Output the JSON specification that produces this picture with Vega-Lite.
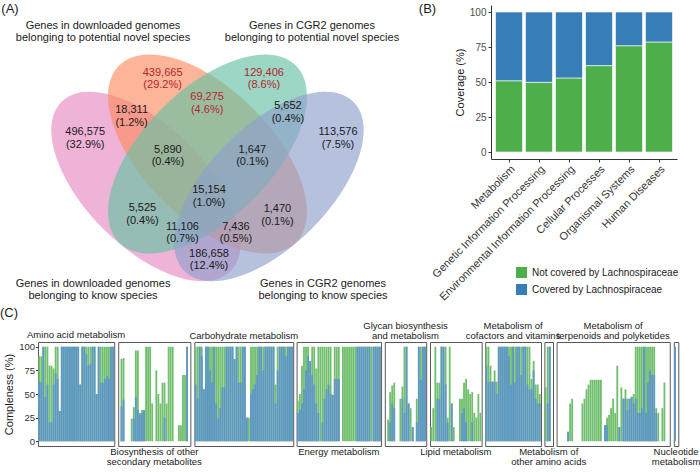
{
  "$schema": "https://vega.github.io/schema/vega-lite/v6.json",
  "padding": {"left": 0, "top": 2, "right": 0, "bottom": 0},
  "spacing": 0,
  "config": {
    "font": "Liberation Sans",
    "view": {"stroke": null},
    "axis": {"grid": false, "labelFont": "Liberation Sans", "titleFont": "Liberation Sans", "titleFontWeight": "normal", "titleColor": "#1A1A1A"},
    "legend": {"labelFont": "Liberation Sans"},
    "title": {"font": "Liberation Sans", "fontWeight": "normal", "color": "#1A1A1A"},
    "text": {"font": "Liberation Sans"}
  },
  "datasets": {
    "tags": [
      {"tag": "(A)", "x": -0.0281, "y": 0.9452},
      {"tag": "(B)", "x": 1.0882, "y": 0.9452}
    ],
    "venn_sets": [
      {"id": "S1", "cx": 0.3356, "cy": 0.4706, "lx": 0.1939, "ly": 0.2112, "label": "Genes in downloaded genomes\nbelonging to know species"},
      {"id": "S2", "cx": 0.5, "cy": 0.5575, "lx": 0.2206, "ly": 0.8984, "label": "Genes in downloaded genomes\nbelonging to potential novel species"},
      {"id": "S3", "cx": 0.5, "cy": 0.5575, "lx": 0.7794, "ly": 0.8984, "label": "Genes in CGR2 genomes\nbelonging to potential novel species"},
      {"id": "S4", "cx": 0.6644, "cy": 0.4706, "lx": 0.8088, "ly": 0.2112, "label": "Genes in CGR2 genomes\nbelonging to know species"}
    ],
    "venn_regions": [
      {"label": "439,665\n(29.2%)", "x": 0.380, "y": 0.7754, "group": "novel"},
      {"label": "129,406\n(8.6%)", "x": 0.651, "y": 0.7754, "group": "novel"},
      {"label": "69,275\n(4.6%)", "x": 0.499, "y": 0.7086, "group": "novel"},
      {"label": "18,311\n(1.2%)", "x": 0.297, "y": 0.6738, "group": "other"},
      {"label": "5,652\n(0.4%)", "x": 0.715, "y": 0.6845, "group": "other"},
      {"label": "496,575\n(32.9%)", "x": 0.173, "y": 0.6150, "group": "other"},
      {"label": "113,576\n(7.5%)", "x": 0.849, "y": 0.6150, "group": "other"},
      {"label": "5,890\n(0.4%)", "x": 0.394, "y": 0.5695, "group": "other"},
      {"label": "1,647\n(0.1%)", "x": 0.620, "y": 0.5695, "group": "other"},
      {"label": "15,154\n(1.0%)", "x": 0.504, "y": 0.4599, "group": "other"},
      {"label": "5,525\n(0.4%)", "x": 0.326, "y": 0.4118, "group": "other"},
      {"label": "1,470\n(0.1%)", "x": 0.687, "y": 0.4091, "group": "other"},
      {"label": "11,106\n(0.7%)", "x": 0.433, "y": 0.3636, "group": "other"},
      {"label": "7,436\n(0.5%)", "x": 0.576, "y": 0.3636, "group": "other"},
      {"label": "186,658\n(12.4%)", "x": 0.504, "y": 0.2914, "group": "other"}
    ],
    "coverage": [
      {"category": "Metabolism", "group": "Not covered by Lachnospiraceae", "value": 50.9},
      {"category": "Metabolism", "group": "Covered by Lachnospiraceae", "value": 49.1},
      {"category": "Genetic Information Processing", "group": "Not covered by Lachnospiraceae", "value": 49.8},
      {"category": "Genetic Information Processing", "group": "Covered by Lachnospiraceae", "value": 50.2},
      {"category": "Environmental Information Processing", "group": "Not covered by Lachnospiraceae", "value": 52.9},
      {"category": "Environmental Information Processing", "group": "Covered by Lachnospiraceae", "value": 47.1},
      {"category": "Cellular Processes", "group": "Not covered by Lachnospiraceae", "value": 61.7},
      {"category": "Cellular Processes", "group": "Covered by Lachnospiraceae", "value": 38.3},
      {"category": "Organismal Systems", "group": "Not covered by Lachnospiraceae", "value": 75.9},
      {"category": "Organismal Systems", "group": "Covered by Lachnospiraceae", "value": 24.1},
      {"category": "Human Diseases", "group": "Not covered by Lachnospiraceae", "value": 78.6},
      {"category": "Human Diseases", "group": "Covered by Lachnospiraceae", "value": 21.4}
    ],
    "completeness": [
      {"p": "Amino acid metabolism", "bar": 1, "total": 90, "lachno": 63},
      {"p": "Amino acid metabolism", "bar": 2, "total": 90, "lachno": 63},
      {"p": "Amino acid metabolism", "bar": 3, "total": 100, "lachno": 100},
      {"p": "Amino acid metabolism", "bar": 4, "total": 100, "lachno": 47},
      {"p": "Amino acid metabolism", "bar": 5, "total": 100, "lachno": 60},
      {"p": "Amino acid metabolism", "bar": 6, "total": 80, "lachno": 20},
      {"p": "Amino acid metabolism", "bar": 7, "total": 80, "lachno": 20},
      {"p": "Amino acid metabolism", "bar": 8, "total": 77, "lachno": 60},
      {"p": "Amino acid metabolism", "bar": 9, "total": 100, "lachno": 72},
      {"p": "Amino acid metabolism", "bar": 10, "total": 100, "lachno": 66},
      {"p": "Amino acid metabolism", "bar": 11, "total": 32, "lachno": 32},
      {"p": "Amino acid metabolism", "bar": 12, "total": 100, "lachno": 100},
      {"p": "Amino acid metabolism", "bar": 13, "total": 100, "lachno": 100},
      {"p": "Amino acid metabolism", "bar": 14, "total": 100, "lachno": 100},
      {"p": "Amino acid metabolism", "bar": 15, "total": 100, "lachno": 100},
      {"p": "Amino acid metabolism", "bar": 16, "total": 100, "lachno": 100},
      {"p": "Amino acid metabolism", "bar": 17, "total": 100, "lachno": 100},
      {"p": "Amino acid metabolism", "bar": 18, "total": 100, "lachno": 100},
      {"p": "Amino acid metabolism", "bar": 19, "total": 100, "lachno": 100},
      {"p": "Amino acid metabolism", "bar": 20, "total": 100, "lachno": 100},
      {"p": "Amino acid metabolism", "bar": 21, "total": 60, "lachno": 60},
      {"p": "Amino acid metabolism", "bar": 22, "total": 100, "lachno": 100},
      {"p": "Amino acid metabolism", "bar": 23, "total": 100, "lachno": 100},
      {"p": "Amino acid metabolism", "bar": 24, "total": 100, "lachno": 92},
      {"p": "Amino acid metabolism", "bar": 25, "total": 100, "lachno": 80},
      {"p": "Amino acid metabolism", "bar": 26, "total": 100, "lachno": 82},
      {"p": "Amino acid metabolism", "bar": 27, "total": 100, "lachno": 100},
      {"p": "Amino acid metabolism", "bar": 28, "total": 100, "lachno": 100},
      {"p": "Amino acid metabolism", "bar": 29, "total": 50, "lachno": 50},
      {"p": "Amino acid metabolism", "bar": 30, "total": 100, "lachno": 100},
      {"p": "Amino acid metabolism", "bar": 31, "total": 100, "lachno": 62},
      {"p": "Amino acid metabolism", "bar": 32, "total": 100, "lachno": 62},
      {"p": "Amino acid metabolism", "bar": 33, "total": 100, "lachno": 66},
      {"p": "Amino acid metabolism", "bar": 34, "total": 100, "lachno": 69},
      {"p": "Amino acid metabolism", "bar": 35, "total": 100, "lachno": 66},
      {"p": "Amino acid metabolism", "bar": 36, "total": 100, "lachno": 100},
      {"p": "Amino acid metabolism", "bar": 37, "total": 100, "lachno": 100},
      {"p": "Biosynthesis of other secondary metabolites", "bar": 1, "total": 0, "lachno": 0},
      {"p": "Biosynthesis of other secondary metabolites", "bar": 2, "total": 87, "lachno": 37},
      {"p": "Biosynthesis of other secondary metabolites", "bar": 3, "total": 88, "lachno": 44},
      {"p": "Biosynthesis of other secondary metabolites", "bar": 4, "total": 0, "lachno": 0},
      {"p": "Biosynthesis of other secondary metabolites", "bar": 5, "total": 0, "lachno": 0},
      {"p": "Biosynthesis of other secondary metabolites", "bar": 6, "total": 0, "lachno": 0},
      {"p": "Biosynthesis of other secondary metabolites", "bar": 7, "total": 24, "lachno": 0},
      {"p": "Biosynthesis of other secondary metabolites", "bar": 8, "total": 36, "lachno": 24},
      {"p": "Biosynthesis of other secondary metabolites", "bar": 9, "total": 96, "lachno": 47},
      {"p": "Biosynthesis of other secondary metabolites", "bar": 10, "total": 96, "lachno": 33},
      {"p": "Biosynthesis of other secondary metabolites", "bar": 11, "total": 30, "lachno": 28},
      {"p": "Biosynthesis of other secondary metabolites", "bar": 12, "total": 33, "lachno": 30},
      {"p": "Biosynthesis of other secondary metabolites", "bar": 13, "total": 33, "lachno": 33},
      {"p": "Biosynthesis of other secondary metabolites", "bar": 14, "total": 100, "lachno": 0},
      {"p": "Biosynthesis of other secondary metabolites", "bar": 15, "total": 100, "lachno": 0},
      {"p": "Biosynthesis of other secondary metabolites", "bar": 16, "total": 100, "lachno": 0},
      {"p": "Biosynthesis of other secondary metabolites", "bar": 17, "total": 40, "lachno": 0},
      {"p": "Biosynthesis of other secondary metabolites", "bar": 18, "total": 0, "lachno": 0},
      {"p": "Biosynthesis of other secondary metabolites", "bar": 19, "total": 75, "lachno": 0},
      {"p": "Biosynthesis of other secondary metabolites", "bar": 20, "total": 50, "lachno": 0},
      {"p": "Biosynthesis of other secondary metabolites", "bar": 21, "total": 40, "lachno": 0},
      {"p": "Biosynthesis of other secondary metabolites", "bar": 22, "total": 62, "lachno": 0},
      {"p": "Biosynthesis of other secondary metabolites", "bar": 23, "total": 62, "lachno": 25},
      {"p": "Biosynthesis of other secondary metabolites", "bar": 24, "total": 40, "lachno": 0},
      {"p": "Biosynthesis of other secondary metabolites", "bar": 25, "total": 100, "lachno": 0},
      {"p": "Biosynthesis of other secondary metabolites", "bar": 26, "total": 100, "lachno": 0},
      {"p": "Biosynthesis of other secondary metabolites", "bar": 27, "total": 100, "lachno": 0},
      {"p": "Biosynthesis of other secondary metabolites", "bar": 28, "total": 0, "lachno": 0},
      {"p": "Biosynthesis of other secondary metabolites", "bar": 29, "total": 0, "lachno": 0},
      {"p": "Biosynthesis of other secondary metabolites", "bar": 30, "total": 17, "lachno": 0},
      {"p": "Biosynthesis of other secondary metabolites", "bar": 31, "total": 17, "lachno": 0},
      {"p": "Biosynthesis of other secondary metabolites", "bar": 32, "total": 70, "lachno": 0},
      {"p": "Biosynthesis of other secondary metabolites", "bar": 33, "total": 70, "lachno": 0},
      {"p": "Biosynthesis of other secondary metabolites", "bar": 34, "total": 100, "lachno": 100},
      {"p": "Biosynthesis of other secondary metabolites", "bar": 35, "total": 0, "lachno": 0},
      {"p": "Carbohydrate metabolism", "bar": 1, "total": 100, "lachno": 60},
      {"p": "Carbohydrate metabolism", "bar": 2, "total": 100, "lachno": 45},
      {"p": "Carbohydrate metabolism", "bar": 3, "total": 100, "lachno": 100},
      {"p": "Carbohydrate metabolism", "bar": 4, "total": 100, "lachno": 90},
      {"p": "Carbohydrate metabolism", "bar": 5, "total": 55, "lachno": 55},
      {"p": "Carbohydrate metabolism", "bar": 6, "total": 100, "lachno": 100},
      {"p": "Carbohydrate metabolism", "bar": 7, "total": 100, "lachno": 100},
      {"p": "Carbohydrate metabolism", "bar": 8, "total": 100, "lachno": 75},
      {"p": "Carbohydrate metabolism", "bar": 9, "total": 100, "lachno": 62},
      {"p": "Carbohydrate metabolism", "bar": 10, "total": 100, "lachno": 100},
      {"p": "Carbohydrate metabolism", "bar": 11, "total": 100, "lachno": 40},
      {"p": "Carbohydrate metabolism", "bar": 12, "total": 100, "lachno": 24},
      {"p": "Carbohydrate metabolism", "bar": 13, "total": 100, "lachno": 35},
      {"p": "Carbohydrate metabolism", "bar": 14, "total": 100, "lachno": 57},
      {"p": "Carbohydrate metabolism", "bar": 15, "total": 100, "lachno": 57},
      {"p": "Carbohydrate metabolism", "bar": 16, "total": 100, "lachno": 100},
      {"p": "Carbohydrate metabolism", "bar": 17, "total": 100, "lachno": 100},
      {"p": "Carbohydrate metabolism", "bar": 18, "total": 100, "lachno": 100},
      {"p": "Carbohydrate metabolism", "bar": 19, "total": 100, "lachno": 100},
      {"p": "Carbohydrate metabolism", "bar": 20, "total": 87, "lachno": 87},
      {"p": "Carbohydrate metabolism", "bar": 21, "total": 100, "lachno": 100},
      {"p": "Carbohydrate metabolism", "bar": 22, "total": 100, "lachno": 62},
      {"p": "Carbohydrate metabolism", "bar": 23, "total": 100, "lachno": 62},
      {"p": "Carbohydrate metabolism", "bar": 24, "total": 100, "lachno": 100},
      {"p": "Carbohydrate metabolism", "bar": 25, "total": 100, "lachno": 100},
      {"p": "Carbohydrate metabolism", "bar": 26, "total": 25, "lachno": 25},
      {"p": "Carbohydrate metabolism", "bar": 27, "total": 25, "lachno": 0},
      {"p": "Carbohydrate metabolism", "bar": 28, "total": 100, "lachno": 50},
      {"p": "Carbohydrate metabolism", "bar": 29, "total": 100, "lachno": 55},
      {"p": "Carbohydrate metabolism", "bar": 30, "total": 100, "lachno": 60},
      {"p": "Carbohydrate metabolism", "bar": 31, "total": 100, "lachno": 70},
      {"p": "Carbohydrate metabolism", "bar": 32, "total": 100, "lachno": 100},
      {"p": "Carbohydrate metabolism", "bar": 33, "total": 100, "lachno": 100},
      {"p": "Carbohydrate metabolism", "bar": 34, "total": 100, "lachno": 75},
      {"p": "Carbohydrate metabolism", "bar": 35, "total": 100, "lachno": 100},
      {"p": "Carbohydrate metabolism", "bar": 36, "total": 100, "lachno": 100},
      {"p": "Carbohydrate metabolism", "bar": 37, "total": 100, "lachno": 100},
      {"p": "Carbohydrate metabolism", "bar": 38, "total": 100, "lachno": 100},
      {"p": "Carbohydrate metabolism", "bar": 39, "total": 100, "lachno": 100},
      {"p": "Carbohydrate metabolism", "bar": 40, "total": 60, "lachno": 40},
      {"p": "Carbohydrate metabolism", "bar": 41, "total": 100, "lachno": 75},
      {"p": "Carbohydrate metabolism", "bar": 42, "total": 100, "lachno": 100},
      {"p": "Carbohydrate metabolism", "bar": 43, "total": 100, "lachno": 100},
      {"p": "Carbohydrate metabolism", "bar": 44, "total": 100, "lachno": 100},
      {"p": "Carbohydrate metabolism", "bar": 45, "total": 100, "lachno": 90},
      {"p": "Carbohydrate metabolism", "bar": 46, "total": 100, "lachno": 100},
      {"p": "Carbohydrate metabolism", "bar": 47, "total": 100, "lachno": 100},
      {"p": "Carbohydrate metabolism", "bar": 48, "total": 100, "lachno": 100},
      {"p": "Energy metabolism", "bar": 1, "total": 43, "lachno": 30},
      {"p": "Energy metabolism", "bar": 2, "total": 50, "lachno": 33},
      {"p": "Energy metabolism", "bar": 3, "total": 80, "lachno": 40},
      {"p": "Energy metabolism", "bar": 4, "total": 100, "lachno": 55},
      {"p": "Energy metabolism", "bar": 5, "total": 100, "lachno": 75},
      {"p": "Energy metabolism", "bar": 6, "total": 100, "lachno": 90},
      {"p": "Energy metabolism", "bar": 7, "total": 85, "lachno": 85},
      {"p": "Energy metabolism", "bar": 8, "total": 100, "lachno": 70},
      {"p": "Energy metabolism", "bar": 9, "total": 100, "lachno": 60},
      {"p": "Energy metabolism", "bar": 10, "total": 77, "lachno": 40},
      {"p": "Energy metabolism", "bar": 11, "total": 100, "lachno": 30},
      {"p": "Energy metabolism", "bar": 12, "total": 100, "lachno": 0},
      {"p": "Energy metabolism", "bar": 13, "total": 100, "lachno": 20},
      {"p": "Energy metabolism", "bar": 14, "total": 100, "lachno": 45},
      {"p": "Energy metabolism", "bar": 15, "total": 100, "lachno": 55},
      {"p": "Energy metabolism", "bar": 16, "total": 100, "lachno": 60},
      {"p": "Energy metabolism", "bar": 17, "total": 100, "lachno": 50},
      {"p": "Energy metabolism", "bar": 18, "total": 49, "lachno": 49},
      {"p": "Energy metabolism", "bar": 19, "total": 100, "lachno": 66},
      {"p": "Energy metabolism", "bar": 20, "total": 100, "lachno": 66},
      {"p": "Energy metabolism", "bar": 21, "total": 100, "lachno": 66},
      {"p": "Energy metabolism", "bar": 22, "total": 0, "lachno": 0},
      {"p": "Energy metabolism", "bar": 23, "total": 100, "lachno": 0},
      {"p": "Energy metabolism", "bar": 24, "total": 100, "lachno": 0},
      {"p": "Energy metabolism", "bar": 25, "total": 100, "lachno": 0},
      {"p": "Energy metabolism", "bar": 26, "total": 100, "lachno": 0},
      {"p": "Energy metabolism", "bar": 27, "total": 100, "lachno": 0},
      {"p": "Energy metabolism", "bar": 28, "total": 100, "lachno": 0},
      {"p": "Energy metabolism", "bar": 29, "total": 100, "lachno": 0},
      {"p": "Energy metabolism", "bar": 30, "total": 100, "lachno": 100},
      {"p": "Energy metabolism", "bar": 31, "total": 100, "lachno": 100},
      {"p": "Energy metabolism", "bar": 32, "total": 100, "lachno": 100},
      {"p": "Energy metabolism", "bar": 33, "total": 100, "lachno": 100},
      {"p": "Energy metabolism", "bar": 34, "total": 100, "lachno": 100},
      {"p": "Energy metabolism", "bar": 35, "total": 100, "lachno": 100},
      {"p": "Energy metabolism", "bar": 36, "total": 100, "lachno": 100},
      {"p": "Energy metabolism", "bar": 37, "total": 100, "lachno": 0},
      {"p": "Energy metabolism", "bar": 38, "total": 100, "lachno": 100},
      {"p": "Energy metabolism", "bar": 39, "total": 100, "lachno": 100},
      {"p": "Energy metabolism", "bar": 40, "total": 100, "lachno": 100},
      {"p": "Energy metabolism", "bar": 41, "total": 100, "lachno": 100},
      {"p": "Glycan biosynthesis and metabolism", "bar": 1, "total": 0, "lachno": 0},
      {"p": "Glycan biosynthesis and metabolism", "bar": 2, "total": 23, "lachno": 0},
      {"p": "Glycan biosynthesis and metabolism", "bar": 3, "total": 52, "lachno": 20},
      {"p": "Glycan biosynthesis and metabolism", "bar": 4, "total": 59, "lachno": 40},
      {"p": "Glycan biosynthesis and metabolism", "bar": 5, "total": 62, "lachno": 35},
      {"p": "Glycan biosynthesis and metabolism", "bar": 6, "total": 0, "lachno": 0},
      {"p": "Glycan biosynthesis and metabolism", "bar": 7, "total": 0, "lachno": 0},
      {"p": "Glycan biosynthesis and metabolism", "bar": 8, "total": 45, "lachno": 0},
      {"p": "Glycan biosynthesis and metabolism", "bar": 9, "total": 58, "lachno": 45},
      {"p": "Glycan biosynthesis and metabolism", "bar": 10, "total": 100, "lachno": 30},
      {"p": "Glycan biosynthesis and metabolism", "bar": 11, "total": 100, "lachno": 100},
      {"p": "Glycan biosynthesis and metabolism", "bar": 12, "total": 40, "lachno": 40},
      {"p": "Glycan biosynthesis and metabolism", "bar": 13, "total": 35, "lachno": 0},
      {"p": "Glycan biosynthesis and metabolism", "bar": 14, "total": 15, "lachno": 15},
      {"p": "Glycan biosynthesis and metabolism", "bar": 15, "total": 0, "lachno": 0},
      {"p": "Glycan biosynthesis and metabolism", "bar": 16, "total": 45, "lachno": 20},
      {"p": "Glycan biosynthesis and metabolism", "bar": 17, "total": 100, "lachno": 100},
      {"p": "Glycan biosynthesis and metabolism", "bar": 18, "total": 100, "lachno": 65},
      {"p": "Glycan biosynthesis and metabolism", "bar": 19, "total": 100, "lachno": 100},
      {"p": "Glycan biosynthesis and metabolism", "bar": 20, "total": 100, "lachno": 100},
      {"p": "Lipid metabolism", "bar": 1, "total": 15, "lachno": 0},
      {"p": "Lipid metabolism", "bar": 2, "total": 35, "lachno": 0},
      {"p": "Lipid metabolism", "bar": 3, "total": 100, "lachno": 0},
      {"p": "Lipid metabolism", "bar": 4, "total": 62, "lachno": 45},
      {"p": "Lipid metabolism", "bar": 5, "total": 62, "lachno": 45},
      {"p": "Lipid metabolism", "bar": 6, "total": 100, "lachno": 100},
      {"p": "Lipid metabolism", "bar": 7, "total": 100, "lachno": 100},
      {"p": "Lipid metabolism", "bar": 8, "total": 100, "lachno": 60},
      {"p": "Lipid metabolism", "bar": 9, "total": 25, "lachno": 20},
      {"p": "Lipid metabolism", "bar": 10, "total": 100, "lachno": 0},
      {"p": "Lipid metabolism", "bar": 11, "total": 40, "lachno": 40},
      {"p": "Lipid metabolism", "bar": 12, "total": 15, "lachno": 0},
      {"p": "Lipid metabolism", "bar": 13, "total": 0, "lachno": 0},
      {"p": "Lipid metabolism", "bar": 14, "total": 0, "lachno": 0},
      {"p": "Lipid metabolism", "bar": 15, "total": 45, "lachno": 0},
      {"p": "Lipid metabolism", "bar": 16, "total": 45, "lachno": 30},
      {"p": "Lipid metabolism", "bar": 17, "total": 62, "lachno": 35},
      {"p": "Lipid metabolism", "bar": 18, "total": 66, "lachno": 20},
      {"p": "Lipid metabolism", "bar": 19, "total": 55, "lachno": 0},
      {"p": "Lipid metabolism", "bar": 20, "total": 50, "lachno": 0},
      {"p": "Lipid metabolism", "bar": 21, "total": 52, "lachno": 20},
      {"p": "Lipid metabolism", "bar": 22, "total": 30, "lachno": 0},
      {"p": "Lipid metabolism", "bar": 23, "total": 25, "lachno": 0},
      {"p": "Lipid metabolism", "bar": 24, "total": 50, "lachno": 0},
      {"p": "Lipid metabolism", "bar": 25, "total": 30, "lachno": 0},
      {"p": "Metabolism of cofactors and vitamins", "bar": 1, "total": 100, "lachno": 80},
      {"p": "Metabolism of cofactors and vitamins", "bar": 2, "total": 100, "lachno": 63},
      {"p": "Metabolism of cofactors and vitamins", "bar": 3, "total": 80, "lachno": 63},
      {"p": "Metabolism of cofactors and vitamins", "bar": 4, "total": 63, "lachno": 63},
      {"p": "Metabolism of cofactors and vitamins", "bar": 5, "total": 75, "lachno": 63},
      {"p": "Metabolism of cofactors and vitamins", "bar": 6, "total": 63, "lachno": 50},
      {"p": "Metabolism of cofactors and vitamins", "bar": 7, "total": 100, "lachno": 100},
      {"p": "Metabolism of cofactors and vitamins", "bar": 8, "total": 100, "lachno": 100},
      {"p": "Metabolism of cofactors and vitamins", "bar": 9, "total": 100, "lachno": 100},
      {"p": "Metabolism of cofactors and vitamins", "bar": 10, "total": 100, "lachno": 100},
      {"p": "Metabolism of cofactors and vitamins", "bar": 11, "total": 100, "lachno": 100},
      {"p": "Metabolism of cofactors and vitamins", "bar": 12, "total": 100, "lachno": 90},
      {"p": "Metabolism of cofactors and vitamins", "bar": 13, "total": 100, "lachno": 60},
      {"p": "Metabolism of cofactors and vitamins", "bar": 14, "total": 100, "lachno": 100},
      {"p": "Metabolism of cofactors and vitamins", "bar": 15, "total": 100, "lachno": 62},
      {"p": "Metabolism of cofactors and vitamins", "bar": 16, "total": 100, "lachno": 100},
      {"p": "Metabolism of cofactors and vitamins", "bar": 17, "total": 100, "lachno": 100},
      {"p": "Metabolism of cofactors and vitamins", "bar": 18, "total": 100, "lachno": 70},
      {"p": "Metabolism of cofactors and vitamins", "bar": 19, "total": 100, "lachno": 100},
      {"p": "Metabolism of cofactors and vitamins", "bar": 20, "total": 100, "lachno": 100},
      {"p": "Metabolism of cofactors and vitamins", "bar": 21, "total": 100, "lachno": 60},
      {"p": "Metabolism of cofactors and vitamins", "bar": 22, "total": 100, "lachno": 55},
      {"p": "Metabolism of cofactors and vitamins", "bar": 23, "total": 66, "lachno": 55},
      {"p": "Metabolism of cofactors and vitamins", "bar": 24, "total": 85, "lachno": 75},
      {"p": "Metabolism of cofactors and vitamins", "bar": 25, "total": 60, "lachno": 45},
      {"p": "Metabolism of cofactors and vitamins", "bar": 26, "total": 60, "lachno": 40},
      {"p": "Metabolism of cofactors and vitamins", "bar": 27, "total": 50, "lachno": 40},
      {"p": "Metabolism of other amino acids", "bar": 1, "total": 57, "lachno": 0},
      {"p": "Metabolism of other amino acids", "bar": 2, "total": 100, "lachno": 40},
      {"p": "Metabolism of other amino acids", "bar": 3, "total": 100, "lachno": 100},
      {"p": "Metabolism of other amino acids", "bar": 4, "total": 0, "lachno": 0},
      {"p": "Metabolism of terpenoids and polyketides", "bar": 1, "total": 0, "lachno": 0},
      {"p": "Metabolism of terpenoids and polyketides", "bar": 2, "total": 0, "lachno": 0},
      {"p": "Metabolism of terpenoids and polyketides", "bar": 3, "total": 0, "lachno": 0},
      {"p": "Metabolism of terpenoids and polyketides", "bar": 4, "total": 0, "lachno": 0},
      {"p": "Metabolism of terpenoids and polyketides", "bar": 5, "total": 0, "lachno": 0},
      {"p": "Metabolism of terpenoids and polyketides", "bar": 6, "total": 10, "lachno": 10},
      {"p": "Metabolism of terpenoids and polyketides", "bar": 7, "total": 40, "lachno": 0},
      {"p": "Metabolism of terpenoids and polyketides", "bar": 8, "total": 45, "lachno": 0},
      {"p": "Metabolism of terpenoids and polyketides", "bar": 9, "total": 0, "lachno": 0},
      {"p": "Metabolism of terpenoids and polyketides", "bar": 10, "total": 0, "lachno": 0},
      {"p": "Metabolism of terpenoids and polyketides", "bar": 11, "total": 0, "lachno": 0},
      {"p": "Metabolism of terpenoids and polyketides", "bar": 12, "total": 0, "lachno": 0},
      {"p": "Metabolism of terpenoids and polyketides", "bar": 13, "total": 40, "lachno": 0},
      {"p": "Metabolism of terpenoids and polyketides", "bar": 14, "total": 45, "lachno": 0},
      {"p": "Metabolism of terpenoids and polyketides", "bar": 15, "total": 55, "lachno": 0},
      {"p": "Metabolism of terpenoids and polyketides", "bar": 16, "total": 60, "lachno": 0},
      {"p": "Metabolism of terpenoids and polyketides", "bar": 17, "total": 65, "lachno": 0},
      {"p": "Metabolism of terpenoids and polyketides", "bar": 18, "total": 65, "lachno": 0},
      {"p": "Metabolism of terpenoids and polyketides", "bar": 19, "total": 65, "lachno": 0},
      {"p": "Metabolism of terpenoids and polyketides", "bar": 20, "total": 65, "lachno": 0},
      {"p": "Metabolism of terpenoids and polyketides", "bar": 21, "total": 65, "lachno": 0},
      {"p": "Metabolism of terpenoids and polyketides", "bar": 22, "total": 65, "lachno": 0},
      {"p": "Metabolism of terpenoids and polyketides", "bar": 23, "total": 0, "lachno": 0},
      {"p": "Metabolism of terpenoids and polyketides", "bar": 24, "total": 17, "lachno": 17},
      {"p": "Metabolism of terpenoids and polyketides", "bar": 25, "total": 25, "lachno": 17},
      {"p": "Metabolism of terpenoids and polyketides", "bar": 26, "total": 28, "lachno": 0},
      {"p": "Metabolism of terpenoids and polyketides", "bar": 27, "total": 35, "lachno": 0},
      {"p": "Metabolism of terpenoids and polyketides", "bar": 28, "total": 45, "lachno": 0},
      {"p": "Metabolism of terpenoids and polyketides", "bar": 29, "total": 30, "lachno": 0},
      {"p": "Metabolism of terpenoids and polyketides", "bar": 30, "total": 80, "lachno": 0},
      {"p": "Metabolism of terpenoids and polyketides", "bar": 31, "total": 15, "lachno": 15},
      {"p": "Metabolism of terpenoids and polyketides", "bar": 32, "total": 57, "lachno": 0},
      {"p": "Metabolism of terpenoids and polyketides", "bar": 33, "total": 45, "lachno": 45},
      {"p": "Metabolism of terpenoids and polyketides", "bar": 34, "total": 55, "lachno": 45},
      {"p": "Metabolism of terpenoids and polyketides", "bar": 35, "total": 45, "lachno": 33},
      {"p": "Metabolism of terpenoids and polyketides", "bar": 36, "total": 45, "lachno": 45},
      {"p": "Metabolism of terpenoids and polyketides", "bar": 37, "total": 47, "lachno": 47},
      {"p": "Metabolism of terpenoids and polyketides", "bar": 38, "total": 50, "lachno": 40},
      {"p": "Metabolism of terpenoids and polyketides", "bar": 39, "total": 100, "lachno": 45},
      {"p": "Metabolism of terpenoids and polyketides", "bar": 40, "total": 100, "lachno": 30},
      {"p": "Metabolism of terpenoids and polyketides", "bar": 41, "total": 100, "lachno": 30},
      {"p": "Metabolism of terpenoids and polyketides", "bar": 42, "total": 100, "lachno": 35},
      {"p": "Metabolism of terpenoids and polyketides", "bar": 43, "total": 100, "lachno": 100},
      {"p": "Metabolism of terpenoids and polyketides", "bar": 44, "total": 100, "lachno": 30},
      {"p": "Metabolism of terpenoids and polyketides", "bar": 45, "total": 100, "lachno": 62},
      {"p": "Metabolism of terpenoids and polyketides", "bar": 46, "total": 100, "lachno": 75},
      {"p": "Metabolism of terpenoids and polyketides", "bar": 47, "total": 100, "lachno": 70},
      {"p": "Metabolism of terpenoids and polyketides", "bar": 48, "total": 100, "lachno": 70},
      {"p": "Metabolism of terpenoids and polyketides", "bar": 49, "total": 35, "lachno": 30},
      {"p": "Metabolism of terpenoids and polyketides", "bar": 50, "total": 30, "lachno": 0},
      {"p": "Metabolism of terpenoids and polyketides", "bar": 51, "total": 0, "lachno": 0},
      {"p": "Metabolism of terpenoids and polyketides", "bar": 52, "total": 35, "lachno": 0},
      {"p": "Metabolism of terpenoids and polyketides", "bar": 53, "total": 62, "lachno": 0},
      {"p": "Metabolism of terpenoids and polyketides", "bar": 54, "total": 0, "lachno": 0},
      {"p": "Metabolism of terpenoids and polyketides", "bar": 55, "total": 0, "lachno": 0},
      {"p": "Nucleotide metabolism", "bar": 1, "total": 100, "lachno": 100},
      {"p": "Nucleotide metabolism", "bar": 2, "total": 0, "lachno": 0}
    ]
  },
  "vconcat": [
    {
      "spacing": 81,
      "bounds": "flush",
      "resolve": {"scale": {"color": "independent"}, "legend": {"color": "independent"}},
      "hconcat": [
        {
          "width": 372,
          "height": 300.5,
          "layer": [
            {
              "data": {"name": "venn_sets"},
              "transform": [{"filter": {"field": "id", "equal": "S1"}}],
              "mark": {"type": "point", "shape": "M0.7071,0.7071C0.5106,0.9036 0.0347,0.7464 -0.3558,0.3558C-0.7464,-0.0347 -0.9036,-0.5106 -0.7071,-0.7071C-0.5106,-0.9036 -0.0347,-0.7464 0.3558,-0.3558C0.7464,0.0347 0.9036,0.5106 0.7071,0.7071Z", "size": 57231, "filled": true, "fill": "#E78AC3", "fillOpacity": 0.65, "opacity": 1, "strokeWidth": 0},
              "encoding": {
                "x": {"field": "cx", "type": "quantitative", "scale": {"domain": [0.04679, 1.04144], "nice": false, "zero": false}, "axis": null},
                "y": {"field": "cy", "type": "quantitative", "scale": {"domain": [0.15241, 0.95588], "nice": false, "zero": false}, "axis": null}
              }
            },
            {
              "data": {"name": "venn_sets"},
              "transform": [{"filter": {"field": "id", "equal": "S2"}}],
              "mark": {"type": "point", "shape": "M0.7071,0.7071C0.5059,0.9083 0.0261,0.7550 -0.3644,0.3644C-0.7550,-0.0261 -0.9083,-0.5059 -0.7071,-0.7071C-0.5059,-0.9083 -0.0261,-0.7550 0.3644,-0.3644C0.7550,0.0261 0.9083,0.5059 0.7071,0.7071Z", "size": 62500, "filled": true, "fill": "#FC8D62", "fillOpacity": 0.65, "opacity": 1, "strokeWidth": 0},
              "encoding": {
                "x": {"field": "cx", "type": "quantitative", "scale": {"domain": [0.04679, 1.04144], "nice": false, "zero": false}, "axis": null},
                "y": {"field": "cy", "type": "quantitative", "scale": {"domain": [0.15241, 0.95588], "nice": false, "zero": false}, "axis": null}
              }
            },
            {
              "data": {"name": "venn_sets"},
              "transform": [{"filter": {"field": "id", "equal": "S3"}}],
              "mark": {"type": "point", "shape": "M-0.7071,0.7071C-0.5059,0.9083 -0.0261,0.7550 0.3644,0.3644C0.7550,-0.0261 0.9083,-0.5059 0.7071,-0.7071C0.5059,-0.9083 0.0261,-0.7550 -0.3644,-0.3644C-0.7550,0.0261 -0.9083,0.5059 -0.7071,0.7071Z", "size": 62500, "filled": true, "fill": "#66C2A5", "fillOpacity": 0.65, "opacity": 1, "strokeWidth": 0},
              "encoding": {
                "x": {"field": "cx", "type": "quantitative", "scale": {"domain": [0.04679, 1.04144], "nice": false, "zero": false}, "axis": null},
                "y": {"field": "cy", "type": "quantitative", "scale": {"domain": [0.15241, 0.95588], "nice": false, "zero": false}, "axis": null}
              }
            },
            {
              "data": {"name": "venn_sets"},
              "transform": [{"filter": {"field": "id", "equal": "S4"}}],
              "mark": {"type": "point", "shape": "M-0.7071,0.7071C-0.5106,0.9036 -0.0347,0.7464 0.3558,0.3558C0.7464,-0.0347 0.9036,-0.5106 0.7071,-0.7071C0.5106,-0.9036 0.0347,-0.7464 -0.3558,-0.3558C-0.7464,0.0347 -0.9036,0.5106 -0.7071,0.7071Z", "size": 57231, "filled": true, "fill": "#8DA0CB", "fillOpacity": 0.65, "opacity": 1, "strokeWidth": 0},
              "encoding": {
                "x": {"field": "cx", "type": "quantitative", "scale": {"domain": [0.04679, 1.04144], "nice": false, "zero": false}, "axis": null},
                "y": {"field": "cy", "type": "quantitative", "scale": {"domain": [0.15241, 0.95588], "nice": false, "zero": false}, "axis": null}
              }
            },
            {
              "data": {"name": "venn_regions"},
              "transform": [{"filter": {"field": "group", "equal": "other"}}],
              "mark": {"type": "text", "lineBreak": "\n", "lineHeight": 12.5, "fontSize": 11, "color": "#1A1A1A"},
              "encoding": {
                "x": {"field": "x", "type": "quantitative", "scale": {"domain": [0.04679, 1.04144], "nice": false, "zero": false}, "axis": null},
                "y": {"field": "y", "type": "quantitative", "scale": {"domain": [0.15241, 0.95588], "nice": false, "zero": false}, "axis": null},
                "text": {"field": "label", "type": "nominal"}
              }
            },
            {
              "data": {"name": "venn_regions"},
              "transform": [{"filter": {"field": "group", "equal": "novel"}}],
              "mark": {"type": "text", "lineBreak": "\n", "lineHeight": 12.5, "fontSize": 11, "color": "#B3262B"},
              "encoding": {
                "x": {"field": "x", "type": "quantitative", "scale": {"domain": [0.04679, 1.04144], "nice": false, "zero": false}, "axis": null},
                "y": {"field": "y", "type": "quantitative", "scale": {"domain": [0.15241, 0.95588], "nice": false, "zero": false}, "axis": null},
                "text": {"field": "label", "type": "nominal"}
              }
            },
            {
              "data": {"name": "venn_sets"},
              "mark": {"type": "text", "lineBreak": "\n", "lineHeight": 12, "fontSize": 11, "color": "#1A1A1A"},
              "encoding": {
                "x": {"field": "lx", "type": "quantitative", "scale": {"domain": [0.04679, 1.04144], "nice": false, "zero": false}, "axis": null},
                "y": {"field": "ly", "type": "quantitative", "scale": {"domain": [0.15241, 0.95588], "nice": false, "zero": false}, "axis": null},
                "text": {"field": "label", "type": "nominal"}
              }
            },
            {
              "data": {"name": "tags"},
              "mark": {"type": "text", "fontSize": 13, "color": "#1A1A1A"},
              "encoding": {
                "x": {"field": "x", "type": "quantitative", "scale": {"domain": [0.04679, 1.04144], "nice": false, "zero": false}, "axis": null},
                "y": {"field": "y", "type": "quantitative", "scale": {"domain": [0.15241, 0.95588], "nice": false, "zero": false}, "axis": null},
                "text": {"field": "tag", "type": "nominal"}
              }
            }
          ]
        },
        {
          "data": {"name": "coverage"},
          "width": {"step": 30},
          "height": 154,
          "mark": {"type": "bar", "stroke": "white", "strokeWidth": 0.6},
          "encoding": {
            "x": {
              "field": "category", "type": "nominal",
              "sort": ["Metabolism", "Genetic Information Processing", "Environmental Information Processing", "Cellular Processes", "Organismal Systems", "Human Diseases"],
              "scale": {"paddingInner": 0.1, "paddingOuter": 0.15},
              "axis": {"title": null, "labelAngle": -45, "labelAlign": "right", "labelBaseline": "top", "labelFontSize": 11, "labelColor": "#333333", "labelLimit": 300, "labelPadding": 1, "tickSize": 3, "tickColor": "#333333", "domainColor": "#333333"}
            },
            "y": {
              "field": "value", "type": "quantitative",
              "scale": {"domain": [-5, 105], "nice": false, "zero": false},
              "axis": {"title": "Coverage (%)", "values": [0, 25, 50, 75, 100], "tickSize": 3, "labelPadding": 2, "labelFontSize": 10, "labelColor": "#4D4D4D", "titleFontSize": 11, "titlePadding": 4, "domainColor": "#333333", "tickColor": "#333333"}
            },
            "color": {
              "field": "group", "type": "nominal",
              "scale": {"domain": ["Not covered by Lachnospiraceae", "Covered by Lachnospiraceae"], "range": ["#4DAF4A", "#377EB8"]},
              "legend": {"title": null, "orient": "none", "legendX": 25, "legendY": 262, "direction": "vertical", "symbolType": "square", "symbolSize": 121, "symbolStrokeWidth": 0, "labelFontSize": 10, "labelColor": "#1A1A1A", "rowPadding": 6, "labelOffset": 5, "padding": 0}
            },
            "order": {"field": "group", "sort": "descending"}
          }
        }
      ]
    },
    {
      "spacing": 3.2,
      "bounds": "flush",
      "title": {"text": "(C)", "anchor": "start", "frame": "group", "fontSize": 13, "offset": 1, "dx": -38},
      "hconcat": [
        {
          "width": {"step": 2.05}, "height": 104,
          "view": {"stroke": "#595959", "strokeWidth": 1},
          "title": {"text": ["Amino acid metabolism"], "orient": "top", "anchor": "middle", "frame": "group", "fontSize": 9.5, "lineHeight": 9.5, "offset": 2},
          "data": {"name": "completeness"},
          "transform": [{"filter": {"field": "p", "equal": "Amino acid metabolism"}}],
          "encoding": {"x": {"field": "bar", "type": "ordinal", "axis": null, "scale": {"paddingInner": 0.1, "paddingOuter": 0.15}}},
          "layer": [
            {"mark": {"type": "bar", "color": "#71BF6E"}, "encoding": {"y": {"field": "total", "type": "quantitative", "scale": {"domain": [-5, 105], "nice": false, "zero": false}, "axis": {"title": "Compleness (%)", "values": [0, 25, 50, 75, 100], "domain": false, "tickSize": 2.5, "labelPadding": 1, "labelFontSize": 9.5, "labelColor": "#333333", "tickColor": "#333333", "titleFontSize": 11, "titlePadding": 4}}}},
            {"mark": {"type": "bar", "color": "#5F98C6"}, "encoding": {"y": {"field": "lachno", "type": "quantitative", "scale": {"domain": [-5, 105], "nice": false, "zero": false}, "axis": {"title": "Compleness (%)", "values": [0, 25, 50, 75, 100], "domain": false, "tickSize": 2.5, "labelPadding": 1, "labelFontSize": 9.5, "labelColor": "#333333", "tickColor": "#333333", "titleFontSize": 11, "titlePadding": 4}}}}
          ]
        },
        {
          "width": {"step": 2.05}, "height": 104,
          "view": {"stroke": "#595959", "strokeWidth": 1},
          "title": {"text": ["Biosynthesis of other", "secondary metabolites"], "orient": "bottom", "anchor": "middle", "frame": "group", "fontSize": 9.5, "lineHeight": 9.5, "offset": 1},
          "data": {"name": "completeness"},
          "transform": [{"filter": {"field": "p", "equal": "Biosynthesis of other secondary metabolites"}}],
          "encoding": {"x": {"field": "bar", "type": "ordinal", "axis": null, "scale": {"paddingInner": 0.1, "paddingOuter": 0.15}}},
          "layer": [
            {"mark": {"type": "bar", "color": "#71BF6E"}, "encoding": {"y": {"field": "total", "type": "quantitative", "scale": {"domain": [-5, 105], "nice": false, "zero": false}, "axis": null}}},
            {"mark": {"type": "bar", "color": "#5F98C6"}, "encoding": {"y": {"field": "lachno", "type": "quantitative", "scale": {"domain": [-5, 105], "nice": false, "zero": false}, "axis": null}}}
          ]
        },
        {
          "width": {"step": 2.05}, "height": 104,
          "view": {"stroke": "#595959", "strokeWidth": 1},
          "title": {"text": ["Carbohydrate metabolism"], "orient": "top", "anchor": "middle", "frame": "group", "fontSize": 9.5, "lineHeight": 9.5, "offset": 2},
          "data": {"name": "completeness"},
          "transform": [{"filter": {"field": "p", "equal": "Carbohydrate metabolism"}}],
          "encoding": {"x": {"field": "bar", "type": "ordinal", "axis": null, "scale": {"paddingInner": 0.1, "paddingOuter": 0.15}}},
          "layer": [
            {"mark": {"type": "bar", "color": "#71BF6E"}, "encoding": {"y": {"field": "total", "type": "quantitative", "scale": {"domain": [-5, 105], "nice": false, "zero": false}, "axis": null}}},
            {"mark": {"type": "bar", "color": "#5F98C6"}, "encoding": {"y": {"field": "lachno", "type": "quantitative", "scale": {"domain": [-5, 105], "nice": false, "zero": false}, "axis": null}}}
          ]
        },
        {
          "width": {"step": 2.05}, "height": 104,
          "view": {"stroke": "#595959", "strokeWidth": 1},
          "title": {"text": ["Energy metabolism"], "orient": "bottom", "anchor": "middle", "frame": "group", "fontSize": 9.5, "lineHeight": 9.5, "offset": 1},
          "data": {"name": "completeness"},
          "transform": [{"filter": {"field": "p", "equal": "Energy metabolism"}}],
          "encoding": {"x": {"field": "bar", "type": "ordinal", "axis": null, "scale": {"paddingInner": 0.1, "paddingOuter": 0.15}}},
          "layer": [
            {"mark": {"type": "bar", "color": "#71BF6E"}, "encoding": {"y": {"field": "total", "type": "quantitative", "scale": {"domain": [-5, 105], "nice": false, "zero": false}, "axis": null}}},
            {"mark": {"type": "bar", "color": "#5F98C6"}, "encoding": {"y": {"field": "lachno", "type": "quantitative", "scale": {"domain": [-5, 105], "nice": false, "zero": false}, "axis": null}}}
          ]
        },
        {
          "width": {"step": 2.05}, "height": 104,
          "view": {"stroke": "#595959", "strokeWidth": 1},
          "title": {"text": ["Glycan biosynthesis", "and metabolism"], "orient": "top", "anchor": "middle", "frame": "group", "fontSize": 9.5, "lineHeight": 9.5, "offset": 2},
          "data": {"name": "completeness"},
          "transform": [{"filter": {"field": "p", "equal": "Glycan biosynthesis and metabolism"}}],
          "encoding": {"x": {"field": "bar", "type": "ordinal", "axis": null, "scale": {"paddingInner": 0.1, "paddingOuter": 0.15}}},
          "layer": [
            {"mark": {"type": "bar", "color": "#71BF6E"}, "encoding": {"y": {"field": "total", "type": "quantitative", "scale": {"domain": [-5, 105], "nice": false, "zero": false}, "axis": null}}},
            {"mark": {"type": "bar", "color": "#5F98C6"}, "encoding": {"y": {"field": "lachno", "type": "quantitative", "scale": {"domain": [-5, 105], "nice": false, "zero": false}, "axis": null}}}
          ]
        },
        {
          "width": {"step": 2.05}, "height": 104,
          "view": {"stroke": "#595959", "strokeWidth": 1},
          "title": {"text": ["Lipid metabolism"], "orient": "bottom", "anchor": "middle", "frame": "group", "fontSize": 9.5, "lineHeight": 9.5, "offset": 1},
          "data": {"name": "completeness"},
          "transform": [{"filter": {"field": "p", "equal": "Lipid metabolism"}}],
          "encoding": {"x": {"field": "bar", "type": "ordinal", "axis": null, "scale": {"paddingInner": 0.1, "paddingOuter": 0.15}}},
          "layer": [
            {"mark": {"type": "bar", "color": "#71BF6E"}, "encoding": {"y": {"field": "total", "type": "quantitative", "scale": {"domain": [-5, 105], "nice": false, "zero": false}, "axis": null}}},
            {"mark": {"type": "bar", "color": "#5F98C6"}, "encoding": {"y": {"field": "lachno", "type": "quantitative", "scale": {"domain": [-5, 105], "nice": false, "zero": false}, "axis": null}}}
          ]
        },
        {
          "width": {"step": 2.05}, "height": 104,
          "view": {"stroke": "#595959", "strokeWidth": 1},
          "title": {"text": ["Metabolism of", "cofactors and vitamins"], "orient": "top", "anchor": "middle", "frame": "group", "fontSize": 9.5, "lineHeight": 9.5, "offset": 2},
          "data": {"name": "completeness"},
          "transform": [{"filter": {"field": "p", "equal": "Metabolism of cofactors and vitamins"}}],
          "encoding": {"x": {"field": "bar", "type": "ordinal", "axis": null, "scale": {"paddingInner": 0.1, "paddingOuter": 0.15}}},
          "layer": [
            {"mark": {"type": "bar", "color": "#71BF6E"}, "encoding": {"y": {"field": "total", "type": "quantitative", "scale": {"domain": [-5, 105], "nice": false, "zero": false}, "axis": null}}},
            {"mark": {"type": "bar", "color": "#5F98C6"}, "encoding": {"y": {"field": "lachno", "type": "quantitative", "scale": {"domain": [-5, 105], "nice": false, "zero": false}, "axis": null}}}
          ]
        },
        {
          "width": {"step": 2.05}, "height": 104,
          "view": {"stroke": "#595959", "strokeWidth": 1},
          "title": {"text": ["Metabolism of", "other amino acids"], "orient": "bottom", "anchor": "middle", "frame": "group", "fontSize": 9.5, "lineHeight": 9.5, "offset": 1},
          "data": {"name": "completeness"},
          "transform": [{"filter": {"field": "p", "equal": "Metabolism of other amino acids"}}],
          "encoding": {"x": {"field": "bar", "type": "ordinal", "axis": null, "scale": {"paddingInner": 0.1, "paddingOuter": 0.15}}},
          "layer": [
            {"mark": {"type": "bar", "color": "#71BF6E"}, "encoding": {"y": {"field": "total", "type": "quantitative", "scale": {"domain": [-5, 105], "nice": false, "zero": false}, "axis": null}}},
            {"mark": {"type": "bar", "color": "#5F98C6"}, "encoding": {"y": {"field": "lachno", "type": "quantitative", "scale": {"domain": [-5, 105], "nice": false, "zero": false}, "axis": null}}}
          ]
        },
        {
          "width": {"step": 2.05}, "height": 104,
          "view": {"stroke": "#595959", "strokeWidth": 1},
          "title": {"text": ["Metabolism of", "terpenoids and polyketides"], "orient": "top", "anchor": "middle", "frame": "group", "fontSize": 9.5, "lineHeight": 9.5, "offset": 2},
          "data": {"name": "completeness"},
          "transform": [{"filter": {"field": "p", "equal": "Metabolism of terpenoids and polyketides"}}],
          "encoding": {"x": {"field": "bar", "type": "ordinal", "axis": null, "scale": {"paddingInner": 0.1, "paddingOuter": 0.15}}},
          "layer": [
            {"mark": {"type": "bar", "color": "#71BF6E"}, "encoding": {"y": {"field": "total", "type": "quantitative", "scale": {"domain": [-5, 105], "nice": false, "zero": false}, "axis": null}}},
            {"mark": {"type": "bar", "color": "#5F98C6"}, "encoding": {"y": {"field": "lachno", "type": "quantitative", "scale": {"domain": [-5, 105], "nice": false, "zero": false}, "axis": null}}}
          ]
        },
        {
          "width": {"step": 2.05}, "height": 104,
          "view": {"stroke": "#595959", "strokeWidth": 1},
          "title": {"text": ["Nucleotide", "metabolism"], "orient": "bottom", "anchor": "middle", "frame": "group", "fontSize": 9.5, "lineHeight": 9.5, "offset": 1},
          "data": {"name": "completeness"},
          "transform": [{"filter": {"field": "p", "equal": "Nucleotide metabolism"}}],
          "encoding": {"x": {"field": "bar", "type": "ordinal", "axis": null, "scale": {"paddingInner": 0.1, "paddingOuter": 0.15}}},
          "layer": [
            {"mark": {"type": "bar", "color": "#71BF6E"}, "encoding": {"y": {"field": "total", "type": "quantitative", "scale": {"domain": [-5, 105], "nice": false, "zero": false}, "axis": null}}},
            {"mark": {"type": "bar", "color": "#5F98C6"}, "encoding": {"y": {"field": "lachno", "type": "quantitative", "scale": {"domain": [-5, 105], "nice": false, "zero": false}, "axis": null}}}
          ]
        }
      ]
    }
  ]
}
